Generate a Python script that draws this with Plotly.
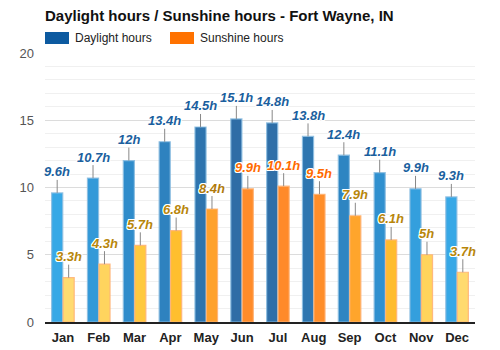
import plotly.graph_objects as go

months = ["Jan", "Feb", "Mar", "Apr", "May", "Jun", "Jul", "Aug", "Sep", "Oct", "Nov", "Dec"]
daylight = [9.6, 10.7, 12.0, 13.4, 14.5, 15.1, 14.8, 13.8, 12.4, 11.1, 9.9, 9.3]
sunshine = [3.3, 4.3, 5.7, 6.8, 8.4, 9.9, 10.1, 9.5, 7.9, 6.1, 5.0, 3.7]
daylight_labels = ["9.6h", "10.7h", "12h", "13.4h", "14.5h", "15.1h", "14.8h", "13.8h", "12.4h", "11.1h", "9.9h", "9.3h"]
sunshine_labels = ["3.3h", "4.3h", "5.7h", "6.8h", "8.4h", "9.9h", "10.1h", "9.5h", "7.9h", "6.1h", "5h", "3.7h"]

day_colors = ["#37a8e6", "#3399d8", "#2f8ccb", "#2e82bf", "#2e74ae", "#2f6da6",
              "#2f6fa8", "#2e76b0", "#2e85c2", "#3090cf", "#349fdd", "#37a8e6"]
sun_colors = ["#ffdb70", "#ffd45e", "#ffc93e", "#ffbf2e", "#ffa12c", "#ff8c2a",
              "#ff8a2a", "#ff8e2a", "#ffa52c", "#ffbc2e", "#ffd45c", "#ffda6e"]
sun_label_colors = ["#b8860b", "#b8860b", "#b8860b", "#b8860b", "#b07a0c", "#ff6a00",
                    "#ff6a00", "#ff6a00", "#b8860b", "#b8860b", "#b8860b", "#b8860b"]

x = list(range(len(months)))
off = 0.16
w = 0.31

fig = go.Figure()
fig.add_trace(go.Bar(x=[i - off for i in x], y=daylight, width=w, name="Daylight hours",
                     marker=dict(color=day_colors, line=dict(color="rgba(140,190,225,0.9)", width=1.2)),
                     showlegend=False, hoverinfo="skip"))
fig.add_trace(go.Bar(x=[i + off for i in x], y=sunshine, width=w, name="Sunshine hours",
                     marker=dict(color=sun_colors, line=dict(color="rgba(255,180,120,0.9)", width=1.2)),
                     showlegend=False, hoverinfo="skip"))

halo = "1px 1px 0 #fff, -1px -1px 0 #fff, 1px -1px 0 #fff, -1px 1px 0 #fff, 0 1px 0 #fff, 0 -1px 0 #fff, 1px 0 0 #fff, -1px 0 0 #fff"
ann = []
for i in x:
    ann.append(dict(x=i - off, y=daylight[i], xref="x", yref="y", text="<b><i>%s</i></b>" % daylight_labels[i],
                    showarrow=True, arrowhead=0, arrowwidth=1, arrowcolor="#888", ax=0, ay=-21,
                    font=dict(family="Arial, Liberation Sans", size=13, color="#1b5f9e", shadow=halo),
                    borderpad=0))
    ann.append(dict(x=i + off, y=sunshine[i], xref="x", yref="y", text="<b><i>%s</i></b>" % sunshine_labels[i],
                    showarrow=True, arrowhead=0, arrowwidth=1, arrowcolor="#888", ax=0, ay=-21,
                    font=dict(family="Arial, Liberation Sans", size=13, color=sun_label_colors[i], shadow=halo),
                    borderpad=0))

fig.update_layout(
    width=500, height=350,
    margin=dict(l=45, r=25, t=53, b=28, autoexpand=False),
    paper_bgcolor="white", plot_bgcolor="white",
    barmode="overlay",
    font=dict(family="Arial, Liberation Sans", size=13, color="#333"),
    title=dict(text="<b>Daylight hours / Sunshine hours - Fort Wayne, IN</b>", x=45/500, xanchor="left",
               y=1 - 16/350, yanchor="middle", font=dict(size=15, color="#111")),
    xaxis=dict(range=[-0.5, 11.5], tickmode="array", tickvals=x, ticktext=["<b>%s</b>" % m for m in months],
               showgrid=False, zeroline=False, showline=True, linecolor="#222", linewidth=1.5,
               ticks="", tickfont=dict(size=13, color="#222"), ticklabelstandoff=3, automargin=False,
               fixedrange=True),
    yaxis=dict(range=[0, 20], tickvals=[0, 5, 10, 15, 20], showgrid=True, gridcolor="#dcdcdc",
               zeroline=False, ticks="", tickfont=dict(size=13, color="#555"), ticklabelstandoff=10,
               automargin=False,
               minor=dict(dtick=1, showgrid=True, gridcolor="#f0f0f0"), fixedrange=True),
    showlegend=False,
    annotations=ann,
)

# legend drawn as shapes + annotations in paper coordinates (pixels converted)
pw = 500 - 45 - 25
ph = 350 - 53 - 28
def px_x(p):
    return (p - 45) / pw
def px_y(p):
    return (350 - 28 - p) / ph

legend_items = [("Daylight hours", "#0d5aa0", 45, 73), ("Sunshine hours", "#ff7200", 170, 198)]
for name, col, sx, tx in legend_items:
    fig.add_shape(type="rect", xref="paper", yref="paper", x0=px_x(sx), x1=px_x(sx + 24),
                  y0=px_y(44), y1=px_y(32), fillcolor=col, line=dict(width=0))
    fig.add_annotation(x=px_x(tx), y=px_y(38), xref="paper", yref="paper", text=name, showarrow=False,
                       xanchor="left", yanchor="middle", font=dict(size=12, color="#222"))

fig.write_html("out.html")
